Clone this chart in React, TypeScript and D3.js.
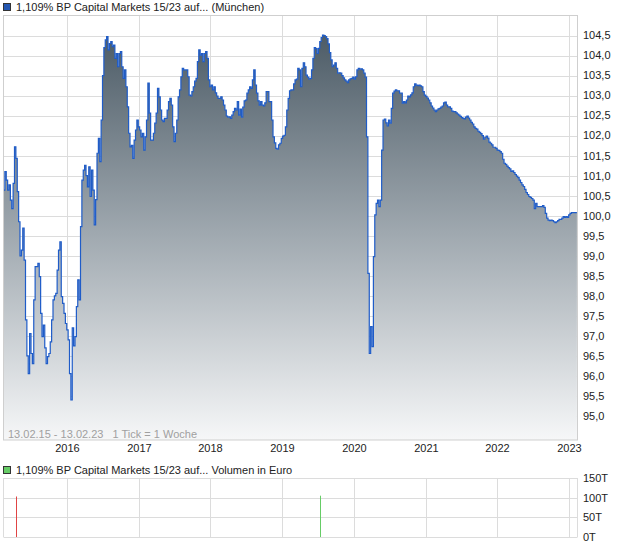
import React from "react";
import * as d3 from "d3";

const TITLE = "1,109% BP Capital Markets 15/23 auf... (München)";
const VOL_TITLE = "1,109% BP Capital Markets 15/23 auf... Volumen in Euro";
const RANGE_TEXT = "13.02.15 - 13.02.23   1 Tick = 1 Woche";

const START = new Date(2015, 1, 13);
const END = new Date(2023, 1, 13);

const yearTicks = [2016, 2017, 2018, 2019, 2020, 2021, 2022, 2023];
const priceTicks = [95, 95.5, 96, 96.5, 97, 97.5, 98, 98.5, 99, 99.5, 100, 100.5, 101, 101.5, 102, 102.5, 103, 103.5, 104, 104.5];
const volumeTicks = [0, 50000, 100000, 150000];
const volumeTickLabels = ["0T", "50T", "100T", "150T"];

const volumeDates = ["2015-04-17", "2019-07-12"];
const volumeValues = [103000, 105000];
const volumeUp = [false, true];

// weekly closing prices (1 Tick = 1 Woche), starting 13.02.2015
const prices2015to2017 = [
  100.64, 101.10, 100.89, 100.64, 100.77, 100.39, 100.18, 100.81, 101.72, 101.43,
  100.60, 99.85, 99.00, 99.14, 99.69, 98.89, 97.40, 96.50, 96.06, 97.06,
  96.56, 96.31, 97.90, 98.73, 98.73, 98.81, 98.48, 97.56, 96.98, 97.27,
  96.70, 96.31, 96.48, 96.56, 96.85, 97.40, 97.90, 98.00, 98.06, 98.64,
  99.14, 99.35, 97.98, 97.81, 97.56, 97.31, 97.15, 96.90, 96.06, 95.40,
  97.20, 96.75, 96.98, 97.73, 98.40, 97.90, 99.73, 100.89, 101.14, 101.26,
  101.00, 100.72, 101.22, 100.48, 101.14, 100.64, 99.77, 100.40, 101.56, 101.93,
  101.35, 102.39, 103.50, 104.20, 104.39, 104.47, 104.14, 104.30, 104.35, 104.22,
  104.26, 103.93, 104.05, 103.72, 104.05, 104.10, 103.72, 103.43, 103.64, 103.22,
  102.72, 102.06, 101.72, 101.76, 101.43, 101.89, 102.14, 102.39, 102.22, 102.14,
  101.97, 102.06, 101.64, 101.97, 102.39, 103.31, 102.56, 101.89, 101.89, 102.06,
  102.31, 102.56, 103.18, 102.97,
];
const prices2017to2018 = [
  102.64, 102.39, 102.35, 102.43, 102.43, 102.64, 102.85, 102.93, 102.76, 102.22,
  101.85, 102.06, 102.39, 102.97, 103.14, 103.47, 103.68, 103.64, 103.64, 103.64,
  103.47, 103.01, 102.99, 103.10, 103.22, 103.36, 103.43, 103.85, 104.14, 104.01,
  104.05, 103.85, 104.05, 104.10, 103.93, 103.39, 103.22, 103.26, 103.14, 103.22,
  103.07, 102.99, 102.93, 102.93, 102.97, 102.89, 102.76, 102.64, 102.49, 102.46,
  102.47, 102.43, 102.51, 102.60, 102.68, 102.64, 102.85, 102.51, 102.66, 102.46,
  102.71, 102.87, 102.89, 103.06, 103.14, 103.22,
];
const prices2018to2020 = [
  103.18, 103.39, 103.64, 103.26, 103.06, 102.87, 102.76, 102.85, 102.76, 102.74,
  102.82, 103.10, 103.10, 102.85, 102.85, 102.39, 101.97, 101.82, 101.68, 101.66,
  101.77, 101.81, 101.93, 101.99, 102.01, 102.22, 102.64, 102.93, 103.12, 103.14,
  103.14, 103.29, 103.39, 103.41, 103.68, 103.64, 103.22, 103.68, 103.82, 103.72,
  103.51, 103.46, 103.41, 103.43, 103.64, 103.93, 104.20, 104.17, 104.05, 104.18,
  104.35, 104.45, 104.51, 104.50, 104.47, 104.42, 104.29, 104.07, 103.89, 103.72,
  103.76, 103.82, 103.68, 103.56, 103.57, 103.56, 103.50, 103.44, 103.39, 103.36,
  103.32, 103.39, 103.42, 103.43, 103.46, 103.41, 103.47, 103.64, 103.68, 103.66,
  103.67, 103.64, 103.56, 103.46,
];
const prices2020to2023 = [
  101.97, 98.56, 96.56, 97.23, 96.73, 98.98, 100.02, 100.31, 100.39, 100.23,
  100.39, 101.64, 102.39, 102.41, 102.32, 102.24, 102.39, 102.31, 102.68, 103.06,
  103.11, 103.14, 103.12, 103.12, 103.06, 103.06, 102.81, 102.85, 102.82, 102.89,
  102.99, 102.97, 103.02, 103.07, 103.22, 103.29, 103.26, 103.25, 103.26, 103.24,
  103.22, 103.10, 103.01, 102.98, 102.94, 102.89, 102.82, 102.74, 102.69, 102.64,
  102.60, 102.64, 102.67, 102.68, 102.71, 102.74, 102.82, 102.84, 102.76, 102.72,
  102.72, 102.68, 102.61, 102.60, 102.60, 102.57, 102.54, 102.51, 102.48, 102.45,
  102.43, 102.42, 102.46, 102.49, 102.44, 102.39, 102.33, 102.29, 102.22, 102.18,
  102.16, 102.11, 102.08, 102.05, 102.00, 101.91, 101.96, 101.99, 101.94, 101.84,
  101.81, 101.77, 101.71, 101.71, 101.68, 101.64, 101.63, 101.60, 101.56, 101.41,
  101.31, 101.28, 101.24, 101.20, 101.17, 101.11, 101.12, 101.08, 101.03, 100.99,
  100.95, 100.89, 100.83, 100.77, 100.73, 100.66, 100.58, 100.53, 100.48, 100.46,
  100.43, 100.39, 100.18, 100.31, 100.23, 100.23, 100.23, 100.23, 100.25, 100.21,
  100.06, 99.94, 99.89, 99.88, 99.89, 99.88, 99.85, 99.83, 99.85, 99.88,
  99.91, 99.91, 99.94, 99.98, 99.96, 99.98, 99.96, 100.02, 100.06, 100.08,
  100.08, 100.08, 100.08, 100.08,
];

const FONT = "'Liberation Sans', Arial, Helvetica, sans-serif";

export default function App() {
  const W = 620;
  const H = 546;
  const L = 3.5;
  const R = 577.5;
  const TOP = 16;
  const BOT = 440;
  const VTOP = 478;
  const VBOT = 537;

  const prices = [...prices2015to2017, ...prices2017to2018, ...prices2018to2020, ...prices2020to2023];
  const data = prices.map((p, i) => ({ date: d3.timeDay.offset(START, 7 * i), price: p }));

  const x = d3.scaleTime().domain([START, END]).range([L, R]);
  const y = d3.scaleLinear().domain([104.5, 95.0]).range([35.5, 416]);
  const yBottomVal = y.invert(BOT);
  const yv = d3.scaleLinear().domain([0, 150000]).range([VBOT, VTOP]);

  const line = d3
    .line<{ date: Date; price: number }>()
    .x((d) => x(d.date))
    .y((d) => y(d.price))
    .curve(d3.curveStepAfter);
  const area = d3
    .area<{ date: Date; price: number }>()
    .x((d) => x(d.date))
    .y0(y(yBottomVal))
    .y1((d) => y(d.price))
    .curve(d3.curveStepAfter);

  const yearX = yearTicks.map((yr) => Math.round(x(new Date(yr, 0, 1))) + 0.5);
  const grid = "#dcdcdc";

  return (
    <svg
      width={W}
      height={H}
      style={{ position: "absolute", left: 0, top: 0, background: "#fff" }}
      fontFamily={FONT}
    >
      <defs>
        <linearGradient id="fillGrad" gradientUnits="userSpaceOnUse" x1="0" y1={30} x2="0" y2={BOT}>
          <stop offset="0" stopColor="#4b5a65" />
          <stop offset="0.5" stopColor="#a0a9b0" />
          <stop offset="1" stopColor="#f6f7f8" />
        </linearGradient>
      </defs>
      <rect x={0} y={0} width={W} height={H} fill="#fff" />

      {/* main legend */}
      <rect x={3.5} y={3.5} width={7} height={7} fill="#2456b0" stroke="#333" strokeWidth={1} />
      <text x={16} y={11} fontSize={11} fill="#222">{TITLE}</text>

      {/* main grid */}
      {priceTicks.map((t) => (
        <line key={"h" + t} x1={L} x2={R} y1={Math.round(y(t)) + 0.5} y2={Math.round(y(t)) + 0.5} stroke={grid} />
      ))}
      {yearX.map((xx, i) => (
        <line key={"v" + i} x1={xx} x2={xx} y1={TOP} y2={BOT} stroke={grid} />
      ))}

      <path d={area(data) || ""} fill="url(#fillGrad)" />
      <path d={line(data) || ""} fill="none" stroke="#1f5cc8" strokeWidth={1.2} />

      <rect x={L} y={TOP - 0.5} width={R - L} height={BOT - TOP + 0.5} fill="none" stroke="#cfcfcf" />

      {priceTicks.map((t) => (
        <text key={"yl" + t} x={583} y={y(t)} dy="0.35em" fontSize={11} fill="#222">
          {d3.format(".1f")(t).replace(".", ",")}
        </text>
      ))}

      <text x={8} y={438} fontSize={11} fill="#a0a0a0" style={{ whiteSpace: "pre" }}>{RANGE_TEXT}</text>

      {yearTicks.map((yr, i) => (
        <text key={"yr" + yr} x={yearX[i]} y={452} fontSize={11} fill="#222" textAnchor="middle">{yr}</text>
      ))}

      {/* volume panel */}
      <rect x={3.5} y={466.5} width={7} height={7} fill="#66cc66" stroke="#333" strokeWidth={1} />
      <text x={16} y={474} fontSize={11} fill="#222">{VOL_TITLE}</text>

      {volumeTicks.map((t) => (
        <line key={"vh" + t} x1={L} x2={R} y1={Math.round(yv(t)) + 0.5} y2={Math.round(yv(t)) + 0.5} stroke={grid} />
      ))}
      {yearX.map((xx, i) => (
        <line key={"vv" + i} x1={xx} x2={xx} y1={VTOP} y2={VBOT} stroke={grid} />
      ))}
      <line x1={L} x2={L} y1={VTOP} y2={VBOT} stroke={grid} />
      <line x1={R} x2={R} y1={VTOP} y2={VBOT} stroke={grid} />

      {volumeDates.map((ds, i) => {
        const xx = Math.round(x(d3.timeParse("%Y-%m-%d")(ds) as Date)) + 0.5;
        return (
          <line
            key={"vb" + i}
            x1={xx}
            x2={xx}
            y1={yv(0)}
            y2={yv(volumeValues[i])}
            stroke={volumeUp[i] ? "#66cc66" : "#e04444"}
            strokeWidth={1}
          />
        );
      })}

      {volumeTicks.map((t, i) => (
        <text key={"vl" + t} x={583} y={yv(t)} dy="0.35em" fontSize={11} fill="#222">
          {volumeTickLabels[i]}
        </text>
      ))}
    </svg>
  );
}
